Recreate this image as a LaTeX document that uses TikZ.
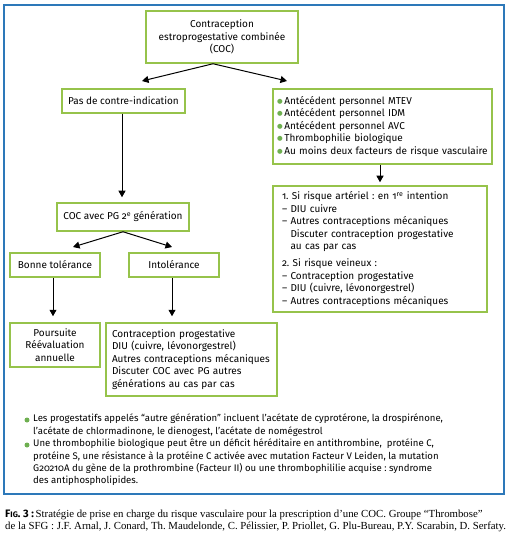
\documentclass[tikz,border=0pt]{standalone}
\usepackage{fontspec}
\setmainfont{Fira Sans}[Numbers=OldStyle]
\newfontfamily\capfont{Liberation Serif}
\newfontfamily\figfont{Fira Sans}
\newfontfamily\symfont{DejaVu Sans}
\usetikzlibrary{arrows.meta, positioning, calc}
\frenchspacing

\definecolor{frameblue}{RGB}{45,120,185}
\definecolor{boxgreen}{RGB}{150,195,75}
\definecolor{dotgreen}{RGB}{110,175,80}

\newcommand{\gdot}{\textcolor{dotgreen}{\raisebox{0.2ex}{\symfont\fontsize{6.5}{6.5}\selectfont ●}}\,}
\newcommand{\dash}{\textendash\ }

\begin{document}
\begin{tikzpicture}[
    x=1pt, y=-1pt,
    >={Triangle[length=6.5pt,width=7pt]},
    font=\fontsize{10}{12.5}\selectfont,
    box/.style={draw=boxgreen, line width=1.5pt, fill=white, inner sep=0pt},
    cbox/.style={box, align=center},
    lbox/.style={box, align=left},
    flow/.style={->, line width=1pt},
    note/.style={align=left, inner sep=0pt, anchor=north west},
    notedot/.style={circle, fill=dotgreen, inner sep=0pt, minimum size=5pt}
]
\useasboundingbox (0,0) rectangle (511,545);

% outer frame
\draw[frameblue, line width=1.3pt] (4,5) rectangle (504,494);

% left branch
\node[cbox, minimum width=152pt, minimum height=52pt] (coc) at (222,37)
    {Contraception\\estroprogestative combinée\\(COC)};
\node[cbox, minimum width=123pt, minimum height=24pt] (noci) at (123.5,101)
    {Pas de contre-indication};
\node[cbox, minimum width=132pt, minimum height=28pt] (gen2) at (123,217)
    {COC avec PG 2\textsuperscript{e} génération};
\node[cbox, minimum width=90pt, minimum height=24pt] (good) at (55,265)
    {Bonne tolérance};
\node[cbox, minimum width=90pt, minimum height=24pt] (intol) at (174,265)
    {Intolérance};
\node[cbox, minimum width=90pt, minimum height=44pt] (keep) at (55,345)
    {Poursuite\\Réévaluation\\annuelle};
\node[lbox, text width=163pt, inner xsep=4pt, minimum height=73pt] (alt) at (191.5,359.5)
    {\hspace{2pt}Contraception progestative\\
     \hspace{2pt}DIU (cuivre, lévonorgestrel)\\
     \hspace{2pt}Autres contraceptions mécaniques\\
     \hspace{2pt}Discuter COC avec PG autres\\
     \hspace{2pt}générations au cas par cas};

% right branch
\node[lbox, text width=211pt, inner xsep=4pt, minimum height=75pt] (risk) at (382.5,126.5)
    {\gdot Antécédent personnel MTEV\\
     \gdot Antécédent personnel IDM\\
     \gdot Antécédent personnel AVC\\
     \gdot Thrombophilie biologique\\
     \gdot Au moins deux facteurs de risque vasculaire};
\node[lbox, text width=196pt, inner xsep=9pt, minimum height=126pt] (reco) at (380,249)
    {1. Si risque artériel : en 1\textsuperscript{re} intention\\
     \dash DIU cuivre\\
     \dash Autres contraceptions mécaniques\\
     \phantom{\dash}Discuter contraception progestative\\
     \phantom{\dash}au cas par cas\\[4.5pt]
     2. Si risque veineux :\\
     \dash Contraception progestative\\
     \dash DIU (cuivre, lévonorgestrel)\\
     \dash Autres contraceptions mécaniques};

% arrow ends
\coordinate (toNoci) at (142,81);
\coordinate (toRisk) at (287,81);
\coordinate (toGood) at (73,247);
\coordinate (toIntol) at (172,247);

\draw[flow] ([xshift=-9pt]coc.south) -- (toNoci);
\draw[flow] ([xshift=-9pt]coc.south) -- (toRisk);
\draw[flow, shorten >=5pt] ([xshift=-1.5pt]noci.south) -- ([xshift=-1pt]gen2.north);
\draw[flow, shorten >=3pt] ([xshift=-2.5pt]risk.south) -- ([xshift=-2.5pt]risk.south |- reco.north);
\draw[flow] (gen2.south) -- (toGood);
\draw[flow] (gen2.south) -- (toIntol);
\draw[flow, shorten >=6pt] ([xshift=-2pt]good.south) -- ([xshift=-2pt]keep.north);
\draw[flow, shorten >=6pt] ([xshift=-2pt]intol.south) -- ([xshift=-2pt]intol.south |- alt.north);

% notes
\node[note, font=\fontsize{9.6}{12.2}\selectfont] (note1) at (33,414)
    {Les progestatifs appelés “autre génération” incluent l’acétate de cyprotérone, la drospirénone,\\
     l’acétate de chlormadinone, le dienogest, l’acétate de nomégestrol};
\node[notedot] (dot1) at (27,420) {};
\node[note, font=\fontsize{9.6}{12.2}\selectfont] (note2) at (33,439)
    {Une thrombophilie biologique peut être un déficit héréditaire en antithrombine,\ \ protéine C,\\
     protéine S, une résistance à la protéine C activée avec mutation Facteur V Leiden, la mutation\\
     G20210A du gène de la prothrombine (Facteur II) ou une thrombophililie acquise : syndrome\\
     des antiphospholipides.};
\node[notedot] (dot2) at (27,445) {};

% caption
\node[note, font=\capfont\fontsize{10.8}{12}\selectfont] (caption) at (5,510)
    {{\figfont\bfseries F{\fontsize{8}{9}\selectfont IG}. 3 :}\,Stratégie de prise en charge du risque vasculaire pour la prescription d’une COC. Groupe “Thrombose”\\
     de la SFG : J.F. Arnal, J. Conard, Th. Maudelonde, C. Pélissier, P. Priollet, G. Plu-Bureau, P.Y. Scarabin, D. Serfaty.};
\end{tikzpicture}
\end{document}
